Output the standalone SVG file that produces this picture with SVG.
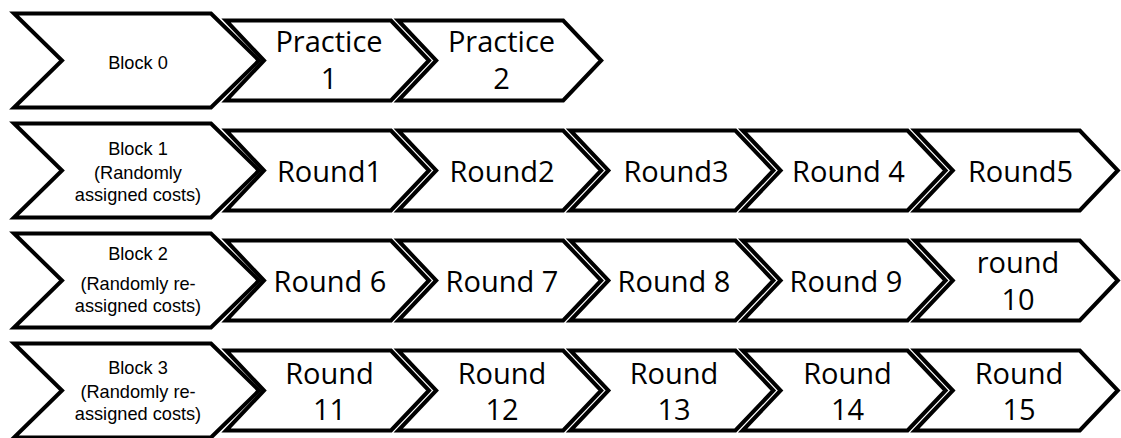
<svg xmlns="http://www.w3.org/2000/svg" xmlns:xlink="http://www.w3.org/1999/xlink" width="1121" height="438" viewBox="0 0 1121 438">
  <style>
    .shape { fill: #ffffff; stroke: #000000; stroke-width: 4; stroke-linejoin: miter; }
    .big { font-family: "Open Sans", "Liberation Sans", sans-serif; font-size: 29px; fill: #000000; text-anchor: middle; }
    .small { font-family: "Liberation Sans", "Open Sans", sans-serif; font-size: 18.2px; fill: #000000; text-anchor: middle; }
  </style>
  <defs>
    <!-- large block chevron (94 tall) and step chevron (80 tall) -->
    <polygon id="blk" points="0,0 197,0 245,47 197,94 0,94 48,47"/>
    <polygon id="chev" points="0,0 165,0 203,40 165,80 0,80 38,40"/>
  </defs>
  <rect width="1121" height="438" fill="#ffffff"/>

  <!-- Row 0 -->
  <g id="block0">
    <use href="#blk" class="shape" x="14" y="13.5"/>
    <text class="small" x="138" y="68.5">Block 0</text>
  </g>
  <g id="practice1">
    <use href="#chev" class="shape" x="226" y="20.5"/>
    <text class="big" x="329" y="51.5">Practice</text>
    <text class="big" x="329" y="88.5">1</text>
  </g>
  <g id="practice2">
    <use href="#chev" class="shape" x="398.2" y="20.5"/>
    <text class="big" x="501.5" y="51.5">Practice</text>
    <text class="big" x="501.5" y="88.5">2</text>
  </g>

  <!-- Row 1 -->
  <g id="block1">
    <use href="#blk" class="shape" x="14" y="123.5"/>
    <text class="small" x="138" y="155">Block 1</text>
    <text class="small" x="138" y="179">(Randomly</text>
    <text class="small" x="138" y="201">assigned costs)</text>
  </g>
  <g id="round1">
    <use href="#chev" class="shape" x="226" y="130.5"/>
    <text class="big" x="329.5" y="181.5">Round1</text>
  </g>
  <g id="round2">
    <use href="#chev" class="shape" x="398.2" y="130.5"/>
    <text class="big" x="502" y="181.5">Round2</text>
  </g>
  <g id="round3">
    <use href="#chev" class="shape" x="570.4" y="130.5"/>
    <text class="big" x="676" y="181.5">Round3</text>
  </g>
  <g id="round4">
    <use href="#chev" class="shape" x="742.6" y="130.5"/>
    <text class="big" x="848.5" y="181.5">Round 4</text>
  </g>
  <g id="round5">
    <use href="#chev" class="shape" x="914.8" y="130.5"/>
    <text class="big" x="1020.5" y="181.5">Round5</text>
  </g>

  <!-- Row 2 -->
  <g id="block2">
    <use href="#blk" class="shape" x="14" y="233.5"/>
    <text class="small" x="138" y="259.5">Block 2</text>
    <text class="small" x="138" y="289.5">(Randomly re-</text>
    <text class="small" x="138" y="311.5">assigned costs)</text>
  </g>
  <g id="round6">
    <use href="#chev" class="shape" x="226" y="240.5"/>
    <text class="big" x="330" y="291.5">Round 6</text>
  </g>
  <g id="round7">
    <use href="#chev" class="shape" x="398.2" y="240.5"/>
    <text class="big" x="502" y="291.5">Round 7</text>
  </g>
  <g id="round8">
    <use href="#chev" class="shape" x="570.4" y="240.5"/>
    <text class="big" x="674" y="291.5">Round 8</text>
  </g>
  <g id="round9">
    <use href="#chev" class="shape" x="742.6" y="240.5"/>
    <text class="big" x="846" y="291.5">Round 9</text>
  </g>
  <g id="round10">
    <use href="#chev" class="shape" x="914.8" y="240.5"/>
    <text class="big" x="1018" y="273">round</text>
    <text class="big" x="1018" y="309.5">10</text>
  </g>

  <!-- Row 3 -->
  <g id="block3">
    <use href="#blk" class="shape" x="14" y="343.5"/>
    <text class="small" x="138" y="374">Block 3</text>
    <text class="small" x="138" y="397.5">(Randomly re-</text>
    <text class="small" x="138" y="419.5">assigned costs)</text>
  </g>
  <g id="round11">
    <use href="#chev" class="shape" x="226" y="350.5"/>
    <text class="big" x="329.5" y="383.5">Round</text>
    <text class="big" x="329.5" y="420">11</text>
  </g>
  <g id="round12">
    <use href="#chev" class="shape" x="398.2" y="350.5"/>
    <text class="big" x="502" y="383.5">Round</text>
    <text class="big" x="502" y="420">12</text>
  </g>
  <g id="round13">
    <use href="#chev" class="shape" x="570.4" y="350.5"/>
    <text class="big" x="674" y="383.5">Round</text>
    <text class="big" x="674" y="420">13</text>
  </g>
  <g id="round14">
    <use href="#chev" class="shape" x="742.6" y="350.5"/>
    <text class="big" x="847.5" y="383.5">Round</text>
    <text class="big" x="847.5" y="420">14</text>
  </g>
  <g id="round15">
    <use href="#chev" class="shape" x="914.8" y="350.5"/>
    <text class="big" x="1019" y="383.5">Round</text>
    <text class="big" x="1019" y="420">15</text>
  </g>
</svg>
